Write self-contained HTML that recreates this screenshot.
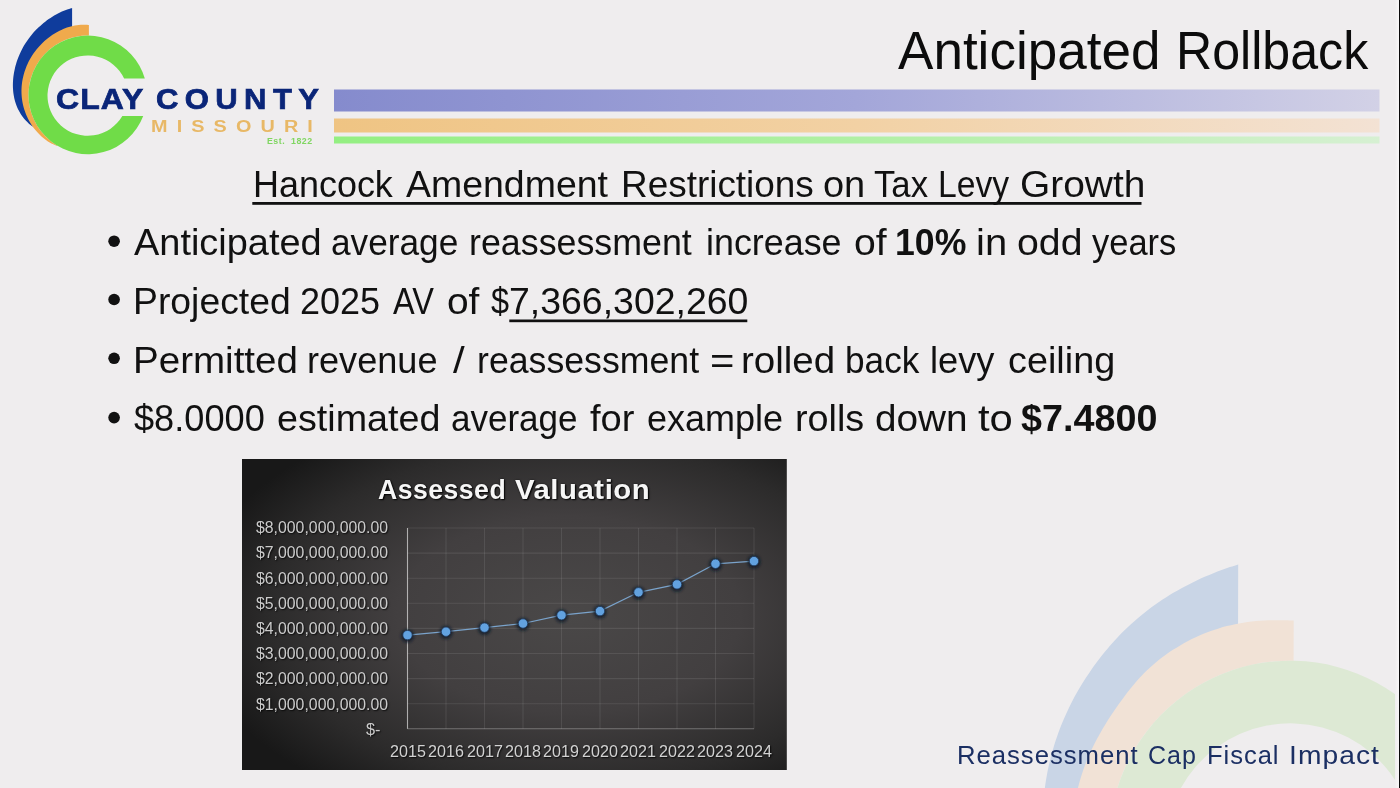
<!DOCTYPE html>
<html lang="en"><head><meta charset="utf-8"><title>Anticipated Rollback</title>
<style>
html,body{margin:0;padding:0;}
body{width:1400px;height:788px;overflow:hidden;background:#efedee;font-family:"Liberation Sans",sans-serif;position:relative;}
.abs{position:absolute;white-space:pre;line-height:1;transform-origin:0 0;display:block;}
#gfx{position:absolute;left:0;top:0;}
.edge{position:absolute;top:0;height:788px;}
h1,h2,ul,li,.z{margin:0;padding:0;font-size:inherit;font-weight:normal;list-style:none;}
</style></head><body>

<svg id="gfx" width="1400" height="788" viewBox="0 0 1400 788">
<defs>
<linearGradient id="gb" x1="0" x2="1" y1="0" y2="0"><stop offset="0" stop-color="#858bcd"/><stop offset="0.5" stop-color="#a3a6d9"/><stop offset="1" stop-color="#d2d1e6"/></linearGradient>
<linearGradient id="go" x1="0" x2="1" y1="0" y2="0"><stop offset="0" stop-color="#efc483"/><stop offset="0.5" stop-color="#f2d1a4"/><stop offset="1" stop-color="#f3e2d4"/></linearGradient>
<linearGradient id="gg" x1="0" x2="1" y1="0" y2="0"><stop offset="0" stop-color="#94ef82"/><stop offset="0.5" stop-color="#b0f0a4"/><stop offset="1" stop-color="#d6f0d2"/></linearGradient>
<radialGradient id="chartbg" cx="0.6" cy="0.5" r="0.7"><stop offset="0" stop-color="#4a4848"/><stop offset="0.45" stop-color="#423f40"/><stop offset="0.78" stop-color="#2c2b2b"/><stop offset="1" stop-color="#181818"/></radialGradient>
<filter id="glow" x="-60%" y="-60%" width="220%" height="220%"><feGaussianBlur stdDeviation="1.6"/></filter>
</defs>
<g transform="translate(1000.00,538.20) scale(3.3)">
<path d="M72.18,7.94 C71.76,8.08 70.49,8.48 69.66,8.76 C68.82,9.05 67.98,9.34 67.15,9.65 C66.31,9.96 65.48,10.28 64.66,10.61 C63.83,10.94 63.01,11.29 62.19,11.64 C61.38,12.00 60.56,12.36 59.76,12.74 C58.95,13.12 58.15,13.51 57.36,13.92 C56.56,14.32 55.77,14.73 54.99,15.16 C54.21,15.59 53.44,16.03 52.67,16.48 C51.90,16.93 51.14,17.39 50.39,17.87 C49.64,18.34 48.90,18.83 48.17,19.33 C47.44,19.83 46.71,20.34 46.00,20.87 C45.28,21.40 44.58,21.93 43.88,22.48 C43.19,23.03 42.50,23.60 41.83,24.17 C41.15,24.75 40.49,25.34 39.84,25.94 C39.18,26.53 38.54,27.15 37.90,27.77 C37.27,28.39 36.64,29.02 36.02,29.66 C35.41,30.30 34.80,30.95 34.21,31.61 C33.61,32.27 33.03,32.95 32.45,33.63 C31.88,34.30 31.31,34.99 30.76,35.69 C30.21,36.39 29.67,37.10 29.14,37.81 C28.60,38.53 28.08,39.25 27.58,39.98 C27.07,40.71 26.57,41.45 26.08,42.20 C25.60,42.95 25.13,43.70 24.66,44.46 C24.20,45.22 23.75,45.99 23.32,46.77 C22.88,47.54 22.45,48.33 22.04,49.12 C21.63,49.91 21.23,50.70 20.84,51.50 C20.46,52.31 20.08,53.11 19.72,53.93 C19.36,54.74 19.02,55.56 18.68,56.39 C18.35,57.21 18.03,58.04 17.72,58.87 C17.42,59.71 17.13,60.55 16.85,61.39 C16.57,62.24 16.31,63.09 16.06,63.94 C15.81,64.79 15.57,65.65 15.35,66.51 C15.13,67.37 14.93,68.24 14.74,69.10 C14.55,69.97 14.37,70.84 14.21,71.72 C14.05,72.59 13.91,73.47 13.78,74.35 C13.65,75.23 13.54,76.11 13.44,76.99 C13.34,77.88 13.26,78.76 13.19,79.65 C13.13,80.54 13.08,81.43 13.05,82.32 C13.02,83.21 13.01,84.55 13.00,85.00 L45,115 L72.1,45 Z" fill="#c9d5e6"/>
<path d="M89.00,24.94 C88.57,24.93 87.29,24.87 86.44,24.85 C85.59,24.83 84.74,24.83 83.88,24.83 C83.03,24.84 82.18,24.86 81.33,24.90 C80.48,24.93 79.63,24.98 78.78,25.04 C77.93,25.11 77.09,25.19 76.25,25.28 C75.40,25.38 74.56,25.49 73.72,25.63 C72.89,25.76 72.05,25.91 71.22,26.08 C70.39,26.25 69.56,26.43 68.74,26.64 C67.92,26.85 67.10,27.08 66.28,27.33 C65.47,27.58 64.66,27.85 63.86,28.13 C63.06,28.42 62.26,28.73 61.47,29.06 C60.68,29.38 59.90,29.73 59.13,30.09 C58.36,30.46 57.59,30.84 56.83,31.23 C56.08,31.63 55.33,32.05 54.60,32.48 C53.86,32.91 53.14,33.35 52.42,33.81 C51.71,34.28 51.00,34.75 50.32,35.25 C49.63,35.74 48.95,36.25 48.28,36.78 C47.62,37.30 46.97,37.84 46.33,38.40 C45.70,38.96 45.08,39.53 44.47,40.12 C43.86,40.71 43.27,41.31 42.70,41.93 C42.12,42.55 41.55,43.18 41.00,43.82 C40.45,44.47 39.90,45.12 39.37,45.79 C38.84,46.45 38.32,47.12 37.80,47.80 C37.29,48.48 36.78,49.17 36.28,49.87 C35.78,50.56 35.29,51.26 34.80,51.96 C34.32,52.67 33.84,53.38 33.37,54.10 C32.91,54.81 32.45,55.54 32.00,56.27 C31.55,57.00 31.12,57.73 30.69,58.47 C30.27,59.21 29.85,59.96 29.45,60.71 C29.05,61.46 28.66,62.22 28.29,62.98 C27.91,63.75 27.55,64.52 27.21,65.29 C26.86,66.07 26.53,66.85 26.21,67.64 C25.90,68.43 25.60,69.22 25.31,70.02 C25.03,70.82 24.77,71.62 24.52,72.43 C24.27,73.24 24.04,74.05 23.83,74.88 C23.62,75.70 23.43,76.52 23.26,77.36 C23.09,78.19 22.94,79.03 22.81,79.87 C22.68,80.71 22.57,81.56 22.49,82.42 C22.40,83.27 22.33,84.57 22.30,85.00 L70,130 L88.9,60 Z" fill="#f1e2d6"/>
<circle cx="87.91" cy="91.92" r="54.8" fill="#efedee"/>
<path d="M141.07,78.6 A54.8,54.8 0 1 0 138.90,112.0 L121.32,112.0 A37.88,37.88 0 1 1 122.62,78.6 Z" fill="#dde9d4"/>
</g>
<g>
<path d="M72.10,8.00 C71.41,8.22 69.32,8.83 67.96,9.31 C66.59,9.78 65.24,10.29 63.90,10.84 C62.57,11.39 61.24,11.97 59.94,12.59 C58.64,13.21 57.35,13.87 56.09,14.56 C54.82,15.25 53.57,15.98 52.35,16.73 C51.12,17.49 49.91,18.28 48.73,19.10 C47.54,19.92 46.37,20.77 45.23,21.65 C44.09,22.53 42.97,23.45 41.87,24.39 C40.78,25.33 39.70,26.30 38.66,27.29 C37.61,28.29 36.59,29.31 35.59,30.36 C34.60,31.41 33.63,32.48 32.68,33.58 C31.74,34.68 30.83,35.80 29.94,36.95 C29.06,38.10 28.20,39.27 27.38,40.46 C26.55,41.65 25.76,42.86 24.99,44.09 C24.23,45.33 23.50,46.58 22.80,47.85 C22.10,49.13 21.43,50.42 20.80,51.73 C20.16,53.03 19.57,54.36 19.00,55.70 C18.44,57.04 17.91,58.40 17.42,59.78 C16.93,61.15 16.47,62.54 16.06,63.94 C15.64,65.34 15.26,66.76 14.93,68.18 C14.59,69.60 14.29,71.03 14.03,72.47 C13.78,73.90 13.56,75.35 13.39,76.79 C13.22,78.24 13.09,79.69 13.00,81.13 C12.92,82.58 12.88,84.02 12.89,85.46 C12.90,86.90 12.95,88.33 13.06,89.76 C13.16,91.18 13.31,92.60 13.52,94.01 C13.72,95.41 13.97,96.81 14.28,98.18 C14.59,99.56 14.94,100.93 15.35,102.27 C15.77,103.61 16.23,104.94 16.75,106.24 C17.27,107.54 17.85,108.83 18.48,110.08 C19.11,111.33 19.80,112.56 20.55,113.76 C21.30,114.96 22.11,116.13 22.98,117.27 C23.85,118.41 24.78,119.51 25.77,120.58 C26.77,121.65 27.82,122.68 28.94,123.67 C30.06,124.66 31.90,126.05 32.50,126.53 L45,115 L72.1,45 Z" fill="#0f3c9c"/>
<path d="M88.90,24.90 C88.22,24.87 86.17,24.72 84.81,24.71 C83.45,24.70 82.10,24.75 80.75,24.85 C79.41,24.94 78.07,25.09 76.74,25.29 C75.41,25.49 74.09,25.74 72.78,26.03 C71.48,26.33 70.18,26.67 68.90,27.06 C67.61,27.44 66.34,27.87 65.08,28.35 C63.83,28.82 62.58,29.34 61.36,29.90 C60.13,30.46 58.92,31.06 57.73,31.70 C56.54,32.33 55.37,33.01 54.22,33.72 C53.07,34.44 51.94,35.19 50.83,35.97 C49.72,36.76 48.63,37.58 47.56,38.43 C46.50,39.28 45.46,40.16 44.45,41.07 C43.43,41.99 42.44,42.93 41.48,43.90 C40.52,44.87 39.59,45.87 38.68,46.90 C37.78,47.92 36.90,48.97 36.06,50.05 C35.22,51.12 34.40,52.22 33.62,53.34 C32.84,54.46 32.09,55.61 31.38,56.77 C30.67,57.93 29.99,59.11 29.35,60.31 C28.71,61.50 28.11,62.72 27.54,63.95 C26.97,65.18 26.45,66.43 25.96,67.69 C25.47,68.94 25.01,70.22 24.60,71.50 C24.19,72.78 23.82,74.08 23.48,75.38 C23.15,76.68 22.86,77.99 22.61,79.31 C22.36,80.63 22.15,81.95 21.98,83.28 C21.81,84.61 21.68,85.95 21.60,87.28 C21.51,88.62 21.47,89.96 21.47,91.30 C21.47,92.63 21.52,93.97 21.61,95.31 C21.69,96.65 21.83,97.98 22.00,99.32 C22.18,100.65 22.40,101.98 22.67,103.30 C22.94,104.62 23.25,105.93 23.61,107.24 C23.97,108.54 24.37,109.84 24.82,111.12 C25.26,112.41 25.75,113.68 26.28,114.93 C26.81,116.19 27.38,117.43 27.99,118.64 C28.60,119.86 29.25,121.06 29.94,122.24 C30.63,123.41 31.36,124.57 32.13,125.70 C32.89,126.82 33.70,127.93 34.54,129.00 C35.38,130.07 36.25,131.11 37.16,132.12 C38.07,133.13 39.02,134.11 40.00,135.04 C40.98,135.98 41.99,136.89 43.03,137.75 C44.08,138.61 45.15,139.44 46.26,140.22 C47.36,141.00 48.50,141.74 49.67,142.43 C50.83,143.12 52.03,143.77 53.25,144.37 C54.47,144.96 56.38,145.73 57.00,146.00 L70,130 L88.9,60 Z" fill="#f0aa4c"/>
<circle cx="87.8" cy="94.9" r="59.3" fill="#efedee"/>
<path d="M144.82,78.6 A59.3,59.3 0 1 0 143.22,116.0 L122.34,116.0 A40.2,40.2 0 1 1 124.13,78.6 Z" fill="#70dc48"/>
</g>
<rect x="334" y="89.5" width="1045.5" height="22" fill="url(#gb)"/>
<rect x="334" y="118.5" width="1045.5" height="14" fill="url(#go)"/>
<rect x="334" y="136.5" width="1045.5" height="7" fill="url(#gg)"/>
<rect x="242" y="459" width="544.8" height="311" fill="url(#chartbg)"/>
<line x1="407.50" y1="528.0" x2="407.50" y2="728.8" stroke="#fff" stroke-opacity="0.6" stroke-width="1.1"/>
<line x1="446.00" y1="528.0" x2="446.00" y2="728.8" stroke="#fff" stroke-opacity="0.09" stroke-width="1.1"/>
<line x1="484.50" y1="528.0" x2="484.50" y2="728.8" stroke="#fff" stroke-opacity="0.09" stroke-width="1.1"/>
<line x1="523.00" y1="528.0" x2="523.00" y2="728.8" stroke="#fff" stroke-opacity="0.09" stroke-width="1.1"/>
<line x1="561.50" y1="528.0" x2="561.50" y2="728.8" stroke="#fff" stroke-opacity="0.09" stroke-width="1.1"/>
<line x1="600.00" y1="528.0" x2="600.00" y2="728.8" stroke="#fff" stroke-opacity="0.09" stroke-width="1.1"/>
<line x1="638.50" y1="528.0" x2="638.50" y2="728.8" stroke="#fff" stroke-opacity="0.09" stroke-width="1.1"/>
<line x1="677.00" y1="528.0" x2="677.00" y2="728.8" stroke="#fff" stroke-opacity="0.09" stroke-width="1.1"/>
<line x1="715.50" y1="528.0" x2="715.50" y2="728.8" stroke="#fff" stroke-opacity="0.09" stroke-width="1.1"/>
<line x1="754.00" y1="528.0" x2="754.00" y2="728.8" stroke="#fff" stroke-opacity="0.09" stroke-width="1.1"/>
<line x1="407.5" y1="528.00" x2="754.0" y2="528.00" stroke="#fff" stroke-opacity="0.09" stroke-width="1.1"/>
<line x1="407.5" y1="553.10" x2="754.0" y2="553.10" stroke="#fff" stroke-opacity="0.09" stroke-width="1.1"/>
<line x1="407.5" y1="578.20" x2="754.0" y2="578.20" stroke="#fff" stroke-opacity="0.09" stroke-width="1.1"/>
<line x1="407.5" y1="603.30" x2="754.0" y2="603.30" stroke="#fff" stroke-opacity="0.09" stroke-width="1.1"/>
<line x1="407.5" y1="628.40" x2="754.0" y2="628.40" stroke="#fff" stroke-opacity="0.09" stroke-width="1.1"/>
<line x1="407.5" y1="653.50" x2="754.0" y2="653.50" stroke="#fff" stroke-opacity="0.09" stroke-width="1.1"/>
<line x1="407.5" y1="678.60" x2="754.0" y2="678.60" stroke="#fff" stroke-opacity="0.09" stroke-width="1.1"/>
<line x1="407.5" y1="703.70" x2="754.0" y2="703.70" stroke="#fff" stroke-opacity="0.09" stroke-width="1.1"/>
<line x1="407.5" y1="728.80" x2="754.0" y2="728.80" stroke="#fff" stroke-opacity="0.3" stroke-width="1.1"/>
<polyline fill="none" stroke="#7aa3cb" stroke-width="1.2" points="407.5,635.1 446.0,631.7 484.5,627.6 523.0,623.5 561.5,615.2 600.0,611.1 638.5,592.3 677.0,584.4 715.5,563.8 754.0,561.1"/>
<circle cx="407.5" cy="635.9" r="6.4" fill="#0c1626" opacity="0.85" filter="url(#glow)"/>
<circle cx="446.0" cy="632.5" r="6.4" fill="#0c1626" opacity="0.85" filter="url(#glow)"/>
<circle cx="484.5" cy="628.4" r="6.4" fill="#0c1626" opacity="0.85" filter="url(#glow)"/>
<circle cx="523.0" cy="624.3" r="6.4" fill="#0c1626" opacity="0.85" filter="url(#glow)"/>
<circle cx="561.5" cy="616.0" r="6.4" fill="#0c1626" opacity="0.85" filter="url(#glow)"/>
<circle cx="600.0" cy="611.9" r="6.4" fill="#0c1626" opacity="0.85" filter="url(#glow)"/>
<circle cx="638.5" cy="593.1" r="6.4" fill="#0c1626" opacity="0.85" filter="url(#glow)"/>
<circle cx="677.0" cy="585.2" r="6.4" fill="#0c1626" opacity="0.85" filter="url(#glow)"/>
<circle cx="715.5" cy="564.6" r="6.4" fill="#0c1626" opacity="0.85" filter="url(#glow)"/>
<circle cx="754.0" cy="561.9" r="6.4" fill="#0c1626" opacity="0.85" filter="url(#glow)"/>
<circle cx="407.5" cy="635.1" r="4.7" fill="#62a2e0" stroke="#1f3a5c" stroke-width="0.8"/>
<circle cx="446.0" cy="631.7" r="4.7" fill="#62a2e0" stroke="#1f3a5c" stroke-width="0.8"/>
<circle cx="484.5" cy="627.6" r="4.7" fill="#62a2e0" stroke="#1f3a5c" stroke-width="0.8"/>
<circle cx="523.0" cy="623.5" r="4.7" fill="#62a2e0" stroke="#1f3a5c" stroke-width="0.8"/>
<circle cx="561.5" cy="615.2" r="4.7" fill="#62a2e0" stroke="#1f3a5c" stroke-width="0.8"/>
<circle cx="600.0" cy="611.1" r="4.7" fill="#62a2e0" stroke="#1f3a5c" stroke-width="0.8"/>
<circle cx="638.5" cy="592.3" r="4.7" fill="#62a2e0" stroke="#1f3a5c" stroke-width="0.8"/>
<circle cx="677.0" cy="584.4" r="4.7" fill="#62a2e0" stroke="#1f3a5c" stroke-width="0.8"/>
<circle cx="715.5" cy="563.8" r="4.7" fill="#62a2e0" stroke="#1f3a5c" stroke-width="0.8"/>
<circle cx="754.0" cy="561.1" r="4.7" fill="#62a2e0" stroke="#1f3a5c" stroke-width="0.8"/>
<circle cx="114.1" cy="241.2" r="5.8" fill="#111"/>
<circle cx="114.1" cy="299.5" r="5.8" fill="#111"/>
<circle cx="114.1" cy="358.3" r="5.8" fill="#111"/>
<circle cx="114.1" cy="417.6" r="5.8" fill="#111"/>
<rect x="252.3" y="202" width="889.2" height="2.8" fill="#111"/>
<rect x="509.3" y="319.5" width="238" height="2.7" fill="#111"/>
</svg>
<div class="logo-text"><span class="abs" style="left:56.21px;top:84.58px;font-size:29.2px;color:#0a2578;font-weight:bold;letter-spacing:1px;transform:scaleX(1.0949);-webkit-text-stroke:0.7px #0a2578;">CLAY</span>
<span class="abs" style="left:156.24px;top:84.58px;font-size:29.2px;color:#0a2578;font-weight:bold;letter-spacing:6px;transform:scaleX(1.0632);-webkit-text-stroke:0.7px #0a2578;">COUNTY</span>
<span class="abs" style="left:151.21px;top:117.67px;font-size:17.4px;color:#e8b866;font-weight:bold;letter-spacing:8px;transform:scaleX(1.1400);">MISSOURI</span>
<span class="abs" style="left:267.00px;top:136.95px;font-size:8.8px;color:#80d662;font-weight:bold;letter-spacing:0.5px;transform:scaleX(1.0000);">Est.  1822</span></div>
<h1 class="z"><span class="abs" style="left:897.50px;top:24.27px;font-size:53.2px;color:#0c0c0c;transform:scaleX(0.9973);">Anticipated</span>
<span class="abs" style="left:1175.93px;top:24.27px;font-size:53.2px;color:#0c0c0c;transform:scaleX(0.9425);">Rollback</span></h1>
<h2 class="z"><span class="abs" style="left:252.68px;top:167.06px;font-size:36.9px;color:#111;transform:scaleX(0.9743);">Hancock</span>
<span class="abs" style="left:406.10px;top:167.06px;font-size:36.9px;color:#111;transform:scaleX(1.0156);">Amendment</span>
<span class="abs" style="left:620.60px;top:167.06px;font-size:36.9px;color:#111;transform:scaleX(1.0005);">Restrictions</span>
<span class="abs" style="left:823.17px;top:167.06px;font-size:36.9px;color:#111;transform:scaleX(1.0289);">on</span>
<span class="abs" style="left:874.06px;top:167.06px;font-size:36.9px;color:#111;transform:scaleX(0.9411);">Tax</span>
<span class="abs" style="left:938.36px;top:167.06px;font-size:36.9px;color:#111;transform:scaleX(0.9133);">Levy</span>
<span class="abs" style="left:1019.89px;top:167.06px;font-size:36.9px;color:#111;transform:scaleX(1.0539);">Growth</span></h2>
<ul class="z"><li class="z"><span class="abs" style="left:133.50px;top:225.16px;font-size:36.9px;color:#111;transform:scaleX(1.0283);">Anticipated</span>
<span class="abs" style="left:331.39px;top:225.16px;font-size:36.9px;color:#111;transform:scaleX(0.9546);">average</span>
<span class="abs" style="left:468.96px;top:225.16px;font-size:36.9px;color:#111;transform:scaleX(0.9702);">reassessment</span>
<span class="abs" style="left:706.36px;top:225.16px;font-size:36.9px;color:#111;transform:scaleX(0.9721);">increase</span>
<span class="abs" style="left:853.74px;top:225.16px;font-size:36.9px;color:#111;transform:scaleX(1.0600);">of</span>
<span class="abs" style="left:895.27px;top:225.16px;font-size:36.9px;color:#111;font-weight:bold;transform:scaleX(0.9662);">10%</span>
<span class="abs" style="left:976.23px;top:225.16px;font-size:36.9px;color:#111;transform:scaleX(1.0833);">in</span>
<span class="abs" style="left:1016.84px;top:225.16px;font-size:36.9px;color:#111;transform:scaleX(1.0638);">odd</span>
<span class="abs" style="left:1092.00px;top:225.16px;font-size:36.9px;color:#111;transform:scaleX(0.9348);">years</span></li>
<li class="z"><span class="abs" style="left:132.86px;top:283.96px;font-size:36.9px;color:#111;transform:scaleX(1.0120);">Projected</span>
<span class="abs" style="left:300.45px;top:283.96px;font-size:36.9px;color:#111;transform:scaleX(0.9759);">2025</span>
<span class="abs" style="left:393.41px;top:283.96px;font-size:36.9px;color:#111;transform:scaleX(0.8800);">AV</span>
<span class="abs" style="left:447.15px;top:283.96px;font-size:36.9px;color:#111;transform:scaleX(1.0533);">of</span>
<span class="abs" style="left:491.36px;top:283.96px;font-size:36.9px;color:#111;transform:scaleX(0.8800);">$</span>
<span class="abs" style="left:508.77px;top:283.96px;font-size:36.9px;color:#111;transform:scaleX(1.0146);">7,366,302,260</span></li>
<li class="z"><span class="abs" style="left:132.77px;top:342.56px;font-size:36.9px;color:#111;transform:scaleX(1.0447);">Permitted</span>
<span class="abs" style="left:307.34px;top:342.56px;font-size:36.9px;color:#111;transform:scaleX(0.9792);">revenue</span>
<span class="abs" style="left:452.90px;top:342.56px;font-size:36.9px;color:#111;transform:scaleX(1.1400);">/</span>
<span class="abs" style="left:477.07px;top:342.56px;font-size:36.9px;color:#111;transform:scaleX(0.9671);">reassessment</span>
<span class="abs" style="left:710.33px;top:342.56px;font-size:36.9px;color:#111;transform:scaleX(1.1333);">=</span>
<span class="abs" style="left:741.41px;top:342.56px;font-size:36.9px;color:#111;transform:scaleX(1.0442);">rolled</span>
<span class="abs" style="left:844.89px;top:342.56px;font-size:36.9px;color:#111;transform:scaleX(0.9539);">back</span>
<span class="abs" style="left:930.43px;top:342.56px;font-size:36.9px;color:#111;transform:scaleX(0.9828);">levy</span>
<span class="abs" style="left:1007.78px;top:342.56px;font-size:36.9px;color:#111;transform:scaleX(1.0248);">ceiling</span></li>
<li class="z"><span class="abs" style="left:133.62px;top:401.06px;font-size:36.9px;color:#111;transform:scaleX(0.9809);">$8.0000</span>
<span class="abs" style="left:277.08px;top:401.06px;font-size:36.9px;color:#111;transform:scaleX(1.0217);">estimated</span>
<span class="abs" style="left:450.90px;top:401.06px;font-size:36.9px;color:#111;transform:scaleX(0.9492);">average</span>
<span class="abs" style="left:589.70px;top:401.06px;font-size:36.9px;color:#111;transform:scaleX(1.0326);">for</span>
<span class="abs" style="left:646.52px;top:401.06px;font-size:36.9px;color:#111;transform:scaleX(0.9759);">example</span>
<span class="abs" style="left:795.45px;top:401.06px;font-size:36.9px;color:#111;transform:scaleX(1.0234);">rolls</span>
<span class="abs" style="left:875.45px;top:401.06px;font-size:36.9px;color:#111;transform:scaleX(1.0494);">down</span>
<span class="abs" style="left:977.50px;top:401.06px;font-size:36.9px;color:#111;transform:scaleX(1.1310);">to</span>
<span class="abs" style="left:1021.18px;top:401.06px;font-size:36.9px;color:#111;font-weight:bold;transform:scaleX(1.0229);">$7.4800</span></li></ul>
<div class="chart"><div class="chart-title"><span class="abs" style="left:378.04px;top:476.27px;font-size:27.8px;color:#f6f6f6;font-weight:bold;letter-spacing:0.5px;transform:scaleX(0.9577);text-shadow:1.2px 1.2px 1.5px rgba(0,0,0,.9),0 0 2px rgba(0,0,0,.6);">Assessed</span>
<span class="abs" style="left:515.40px;top:476.27px;font-size:27.8px;color:#f6f6f6;font-weight:bold;letter-spacing:0.5px;transform:scaleX(1.0563);text-shadow:1.2px 1.2px 1.5px rgba(0,0,0,.9),0 0 2px rgba(0,0,0,.6);">Valuation</span></div>
<div class="y-axis"><span class="abs" style="left:256.00px;top:520.23px;font-size:15.8px;color:#cbcbcb;transform:scaleX(1.0023);text-shadow:1px 1px 1.5px rgba(0,0,0,.8);">$8,000,000,000.00</span>
<span class="abs" style="left:256.00px;top:545.43px;font-size:15.8px;color:#cbcbcb;transform:scaleX(1.0023);text-shadow:1px 1px 1.5px rgba(0,0,0,.8);">$7,000,000,000.00</span>
<span class="abs" style="left:256.00px;top:570.63px;font-size:15.8px;color:#cbcbcb;transform:scaleX(1.0023);text-shadow:1px 1px 1.5px rgba(0,0,0,.8);">$6,000,000,000.00</span>
<span class="abs" style="left:256.00px;top:595.83px;font-size:15.8px;color:#cbcbcb;transform:scaleX(1.0023);text-shadow:1px 1px 1.5px rgba(0,0,0,.8);">$5,000,000,000.00</span>
<span class="abs" style="left:256.00px;top:621.03px;font-size:15.8px;color:#cbcbcb;transform:scaleX(1.0023);text-shadow:1px 1px 1.5px rgba(0,0,0,.8);">$4,000,000,000.00</span>
<span class="abs" style="left:256.00px;top:646.23px;font-size:15.8px;color:#cbcbcb;transform:scaleX(1.0023);text-shadow:1px 1px 1.5px rgba(0,0,0,.8);">$3,000,000,000.00</span>
<span class="abs" style="left:256.00px;top:671.43px;font-size:15.8px;color:#cbcbcb;transform:scaleX(1.0023);text-shadow:1px 1px 1.5px rgba(0,0,0,.8);">$2,000,000,000.00</span>
<span class="abs" style="left:256.00px;top:696.63px;font-size:15.8px;color:#cbcbcb;transform:scaleX(1.0023);text-shadow:1px 1px 1.5px rgba(0,0,0,.8);">$1,000,000,000.00</span>
<span class="abs" style="left:365.90px;top:722.23px;font-size:15.8px;color:#cbcbcb;transform:scaleX(1.0308);text-shadow:1px 1px 1.5px rgba(0,0,0,.8);">$-</span></div>
<div class="x-axis"><span class="abs" style="left:389.52px;top:742.83px;font-size:16.5px;color:#d2d2d2;transform:scaleX(0.9771);text-shadow:1px 1px 1.5px rgba(0,0,0,.8);">2015</span>
<span class="abs" style="left:428.01px;top:742.83px;font-size:16.5px;color:#d2d2d2;transform:scaleX(0.9771);text-shadow:1px 1px 1.5px rgba(0,0,0,.8);">2016</span>
<span class="abs" style="left:466.50px;top:742.83px;font-size:16.5px;color:#d2d2d2;transform:scaleX(0.9771);text-shadow:1px 1px 1.5px rgba(0,0,0,.8);">2017</span>
<span class="abs" style="left:504.99px;top:742.83px;font-size:16.5px;color:#d2d2d2;transform:scaleX(0.9771);text-shadow:1px 1px 1.5px rgba(0,0,0,.8);">2018</span>
<span class="abs" style="left:543.48px;top:742.83px;font-size:16.5px;color:#d2d2d2;transform:scaleX(0.9771);text-shadow:1px 1px 1.5px rgba(0,0,0,.8);">2019</span>
<span class="abs" style="left:581.97px;top:742.83px;font-size:16.5px;color:#d2d2d2;transform:scaleX(0.9771);text-shadow:1px 1px 1.5px rgba(0,0,0,.8);">2020</span>
<span class="abs" style="left:620.46px;top:742.83px;font-size:16.5px;color:#d2d2d2;transform:scaleX(0.9771);text-shadow:1px 1px 1.5px rgba(0,0,0,.8);">2021</span>
<span class="abs" style="left:658.95px;top:742.83px;font-size:16.5px;color:#d2d2d2;transform:scaleX(0.9771);text-shadow:1px 1px 1.5px rgba(0,0,0,.8);">2022</span>
<span class="abs" style="left:697.43px;top:742.83px;font-size:16.5px;color:#d2d2d2;transform:scaleX(0.9771);text-shadow:1px 1px 1.5px rgba(0,0,0,.8);">2023</span>
<span class="abs" style="left:735.92px;top:742.83px;font-size:16.5px;color:#d2d2d2;transform:scaleX(0.9771);text-shadow:1px 1px 1.5px rgba(0,0,0,.8);">2024</span></div></div>
<div class="footer"><span class="abs" style="left:957.07px;top:742.40px;font-size:26.7px;color:#1b2f63;letter-spacing:1.0px;transform:scaleX(0.9632);">Reassessment</span>
<span class="abs" style="left:1147.76px;top:742.40px;font-size:26.7px;color:#1b2f63;letter-spacing:1.0px;transform:scaleX(0.9388);">Cap</span>
<span class="abs" style="left:1206.88px;top:742.40px;font-size:26.7px;color:#1b2f63;letter-spacing:1.0px;transform:scaleX(0.9577);">Fiscal</span>
<span class="abs" style="left:1288.89px;top:742.40px;font-size:26.7px;color:#1b2f63;letter-spacing:1.0px;transform:scaleX(1.0566);">Impact</span></div>
<div class="edge" style="left:1394.6px;width:4px;background:linear-gradient(90deg,#efedee,#f8f7f7)"></div>
<div class="edge" style="left:1398.6px;width:1.4px;background:#0a0a0a"></div>
</body></html>
